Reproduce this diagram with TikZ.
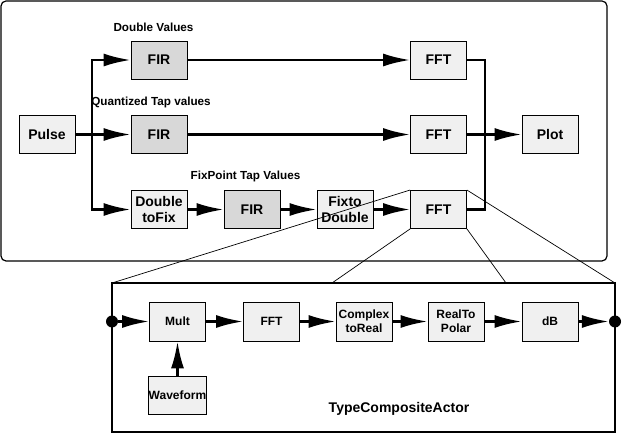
\documentclass[tikz,border=0pt]{standalone}
\usepackage{fontspec}
\setmainfont{Liberation Sans}
\usetikzlibrary{arrows.meta}
\definecolor{boxlight}{HTML}{F0F0F0}
\definecolor{boxdark}{HTML}{D8D8D8}
\begin{document}
\begin{tikzpicture}[x=1pt,y=-1pt,
 actor/.style={draw=black, line width=0.9pt, fill=boxlight, minimum width=56pt, minimum height=38pt, inner sep=0pt, align=center, font=\fontsize{14}{16}\selectfont\bfseries},
 firbox/.style={actor, fill=boxdark},
 inbox/.style={actor, minimum height=39pt, font=\fontsize{12}{14}\selectfont\bfseries},
 lbl/.style={font=\fontsize{11.7}{14}\selectfont\bfseries, inner sep=0pt},
 conn/.style={line width=2.4pt},
 arr/.style={conn, -{Latex[length=27pt,width=13pt]}},
 zoomline/.style={line width=0.7pt},
 port/.style={circle, fill=black, inner sep=0pt, minimum size=12pt}
]
\useasboundingbox (0,0) rectangle (624,435);
% outer composite
\draw[line width=1.2pt, rounded corners=5pt] (1,1) rectangle (607,261);

% top level actors
\node[actor] (pulse) at (47,134.5) {Pulse};
\node[firbox] (firt) at (159,60) {FIR};
\node[firbox] (firm) at (159,134.5) {FIR};
\node[actor] (d2f) at (159,209.5) {Double\\toFix};
\node[firbox] (firb) at (252,209.5) {FIR};
\node[actor] (f2d) at (345,209.5) {Fixto\\Double};
\node[actor] (ffta) at (438.5,60) {FFT};
\node[actor] (fftb) at (438.5,134.5) {FFT};
\node[actor] (fftc) at (438.5,209.5) {FFT};
\node[actor] (plot) at (550,134.5) {Plot};

% labels
\node[lbl] (lab1) at (153.5,27) {Double Values};
\node[lbl] (lab2) at (151,102) {Quantized Tap values};
\node[lbl] (lab3) at (245.5,176) {FixPoint Tap Values};

% connectors
\coordinate (br) at (92,134.5);
\draw[conn] (pulse.east) -- (br);
\draw[arr] (br) -- (firm.west);
\draw[arr] (br) |- (firt.west);
\draw[arr] (br) |- (d2f.west);
\draw[arr] (d2f.east) -- (firb.west);
\draw[arr] (firb.east) -- (f2d.west);
\draw[arr] (f2d.east) -- (fftc.west);
\draw[arr] (firt.east) -- (ffta.west);
\draw[arr] (firm.east) -- (fftb.west);
\coordinate (jt) at (485,60);
\coordinate (jb) at (485,209.5);
\draw[conn] (ffta.east) -- (jt) -- (jb) -- (fftc.east);
\draw[arr] (fftb.east) -- (plot.west);

% expanded composite actor
\node[draw, line width=2.4pt, minimum width=503pt, minimum height=149pt, inner sep=0pt] (comp) at (363.5,357.5) {};
\node[font=\fontsize{14}{16}\selectfont\bfseries, inner sep=0pt] (complbl) at (399,409) {TypeCompositeActor};

\node[inbox] (mult) at (177.5,321.5) {Mult};
\node[inbox] (ifft) at (271.5,321.5) {FFT};
\node[inbox] (c2r) at (364,321.5) {Complex\\toReal};
\node[inbox] (r2p) at (456,321.5) {RealTo\\Polar};
\node[inbox] (db) at (550,321.5) {dB};
\node[actor, font=\fontsize{12}{14}\selectfont\bfseries] (wave) at (177.5,395.5) {Waveform};

\node[port] (pin) at (112,321.5) {};
\node[port] (pout) at (615,321.5) {};

\draw[arr] (pin.east) -- (mult.west);
\draw[arr] (mult.east) -- (ifft.west);
\draw[arr] (ifft.east) -- (c2r.west);
\draw[arr] (c2r.east) -- (r2p.west);
\draw[arr] (r2p.east) -- (db.west);
\draw[arr] (db.east) -- (pout);
\draw[arr] (wave.north) -- (mult.south);

% zoom lines
\coordinate (z1) at (112,283);
\coordinate (z2) at (615,283);
\coordinate (z3) at (332,283);
\coordinate (z4) at (506,283);
\draw[zoomline] (fftc.north west) -- (z1);
\draw[zoomline] (fftc.north east) -- (z2);
\draw[zoomline] (fftc.south west) -- (z3);
\draw[zoomline] (fftc.south east) -- (z4);
\end{tikzpicture}
\end{document}
